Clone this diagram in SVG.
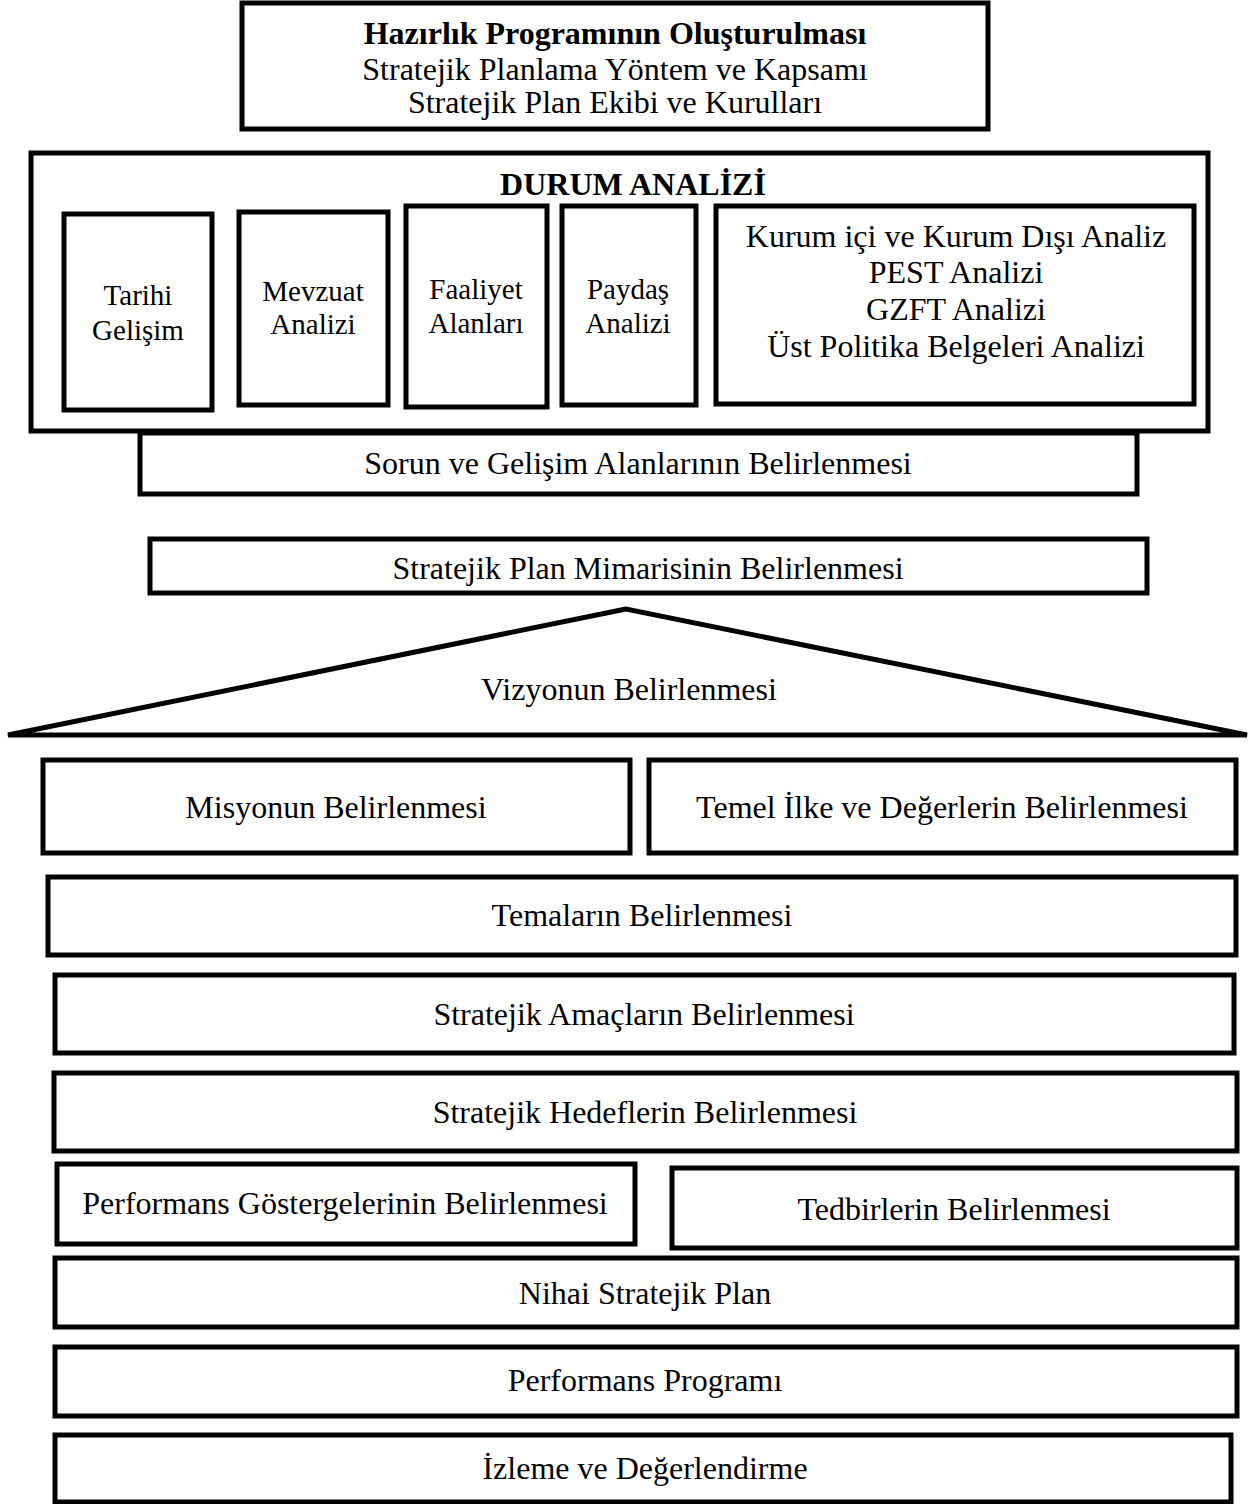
<svg xmlns="http://www.w3.org/2000/svg" width="1258" height="1504" viewBox="0 0 1258 1504">
<style>
.b{fill:#fff;stroke:#000;stroke-width:5}
.t{font-family:"Liberation Serif","Times New Roman",serif;font-size:32px;fill:#000;text-anchor:middle}
.s{font-size:29px}
.bd{font-weight:bold}
</style>
<rect width="1258" height="1504" fill="#fff"/>
<g id="hazirlik">
<rect class="b" x="242" y="3" width="746" height="126"/>
<text class="t bd" x="615" y="44">Hazırlık Programının Oluşturulması</text>
<text class="t" x="615" y="80">Stratejik Planlama Yöntem ve Kapsamı</text>
<text class="t" x="615" y="113">Stratejik Plan Ekibi ve Kurulları</text>
</g>
<g id="durum">
<rect class="b" x="31" y="153" width="1177" height="278" stroke-width="6"/>
<text class="t bd" x="633" y="195">DURUM ANALİZİ</text>
</g>
<g id="tarihi">
<rect class="b" x="64" y="214" width="148" height="196"/>
<text class="t s" x="138" y="305">Tarihi</text>
<text class="t s" x="138" y="340">Gelişim</text>
</g>
<g id="mevzuat">
<rect class="b" x="239" y="212" width="149" height="193"/>
<text class="t s" x="313" y="301">Mevzuat</text>
<text class="t s" x="313" y="334">Analizi</text>
</g>
<g id="faaliyet">
<rect class="b" x="406" y="206" width="141" height="201"/>
<text class="t s" x="476" y="299">Faaliyet</text>
<text class="t s" x="476" y="333">Alanları</text>
</g>
<g id="paydas">
<rect class="b" x="562" y="206" width="134" height="199"/>
<text class="t s" x="628" y="299">Paydaş</text>
<text class="t s" x="628" y="333">Analizi</text>
</g>
<g id="kurum">
<rect class="b" x="716" y="206" width="478" height="198"/>
<text class="t" x="956" y="247">Kurum içi ve Kurum Dışı Analiz</text>
<text class="t" x="956" y="283">PEST Analizi</text>
<text class="t" x="956" y="320">GZFT Analizi</text>
<text class="t" x="956" y="357">Üst Politika Belgeleri Analizi</text>
</g>
<g id="sorun">
<rect class="b" x="140" y="433" width="997" height="61"/>
<text class="t" x="638" y="474">Sorun ve Gelişim Alanlarının Belirlenmesi</text>
</g>
<g id="mimari">
<rect class="b" x="150" y="539" width="997" height="54"/>
<text class="t" x="648" y="579">Stratejik Plan Mimarisinin Belirlenmesi</text>
</g>
<g id="vizyon">
<polygon class="b" points="626,609 8,735 1247,735" stroke-linejoin="miter"/>
<text class="t" x="629" y="700">Vizyonun Belirlenmesi</text>
</g>
<g id="misyon">
<rect class="b" x="43" y="760" width="587" height="93"/>
<text class="t" x="336" y="818">Misyonun Belirlenmesi</text>
</g>
<g id="temel">
<rect class="b" x="649" y="760" width="587" height="93"/>
<text class="t" x="942" y="818">Temel İlke ve Değerlerin Belirlenmesi</text>
</g>
<g id="temalar">
<rect class="b" x="48" y="877" width="1188" height="78"/>
<text class="t" x="642" y="926">Temaların Belirlenmesi</text>
</g>
<g id="amaclar">
<rect class="b" x="55" y="975" width="1179" height="78"/>
<text class="t" x="644" y="1025">Stratejik Amaçların Belirlenmesi</text>
</g>
<g id="hedefler">
<rect class="b" x="54" y="1073" width="1183" height="78"/>
<text class="t" x="645" y="1123">Stratejik Hedeflerin Belirlenmesi</text>
</g>
<g id="gostergeler">
<rect class="b" x="57" y="1164" width="578" height="80"/>
<text class="t" x="345" y="1214">Performans Göstergelerinin Belirlenmesi</text>
</g>
<g id="tedbirler">
<rect class="b" x="672" y="1168" width="565" height="80"/>
<text class="t" x="954" y="1220">Tedbirlerin Belirlenmesi</text>
</g>
<g id="nihai">
<rect class="b" x="55" y="1258" width="1182" height="69"/>
<text class="t" x="645" y="1304">Nihai Stratejik Plan</text>
</g>
<g id="program">
<rect class="b" x="55" y="1347" width="1182" height="69"/>
<text class="t" x="645" y="1391">Performans Programı</text>
</g>
<g id="izleme">
<rect class="b" x="55" y="1435" width="1176" height="67"/>
<text class="t" x="645" y="1479">İzleme ve Değerlendirme</text>
</g>
<g id="connectors"></g>
</svg>
